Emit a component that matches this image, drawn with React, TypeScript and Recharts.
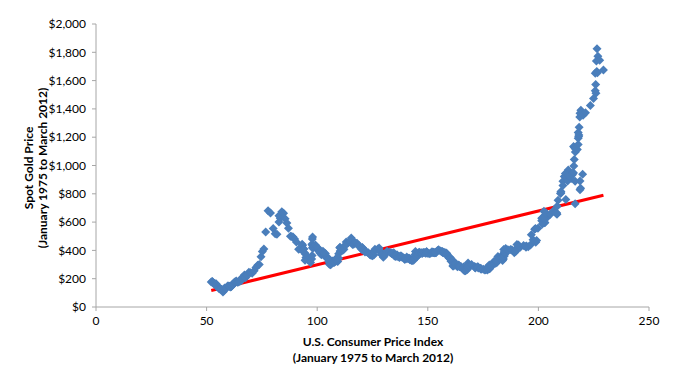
import React from 'react';
import { ScatterChart, Scatter, XAxis, YAxis, ReferenceLine } from 'recharts';

// U.S. CPI-U, monthly, January 1975 - March 2012
const cpi1975to1986 = [
  52.1, 52.5, 52.7, 52.9, 53.2, 53.6, 54.2, 54.3, 54.6, 54.9, 55.3, 55.5,
  55.6, 55.8, 55.9, 56.1, 56.5, 56.8, 57.1, 57.4, 57.6, 57.9, 58.0, 58.2,
  58.5, 59.1, 59.5, 60.0, 60.3, 60.7, 61.0, 61.2, 61.4, 61.6, 61.9, 62.1,
  62.5, 62.9, 63.4, 63.9, 64.5, 65.2, 65.7, 66.0, 66.5, 67.1, 67.4, 67.7,
  68.3, 69.1, 69.8, 70.6, 71.5, 72.3, 73.1, 73.8, 74.6, 75.2, 75.9, 76.7,
  77.8, 78.9, 80.1, 81.0, 81.8, 82.7, 82.7, 83.3, 84.0, 84.8, 85.5, 86.3,
  87.0, 87.9, 88.5, 89.1, 89.8, 90.6, 91.6, 92.3, 93.2, 93.4, 93.7, 94.0,
  94.3, 94.6, 94.5, 94.9, 95.8, 97.0, 97.5, 97.7, 97.9, 98.2, 98.0, 97.6,
  97.8, 97.9, 97.9, 98.6, 99.2, 99.5, 99.9, 100.2, 100.7, 101.0, 101.2, 101.3,
  101.9, 102.4, 102.6, 103.1, 103.4, 103.7, 104.1, 104.5, 105.0, 105.3, 105.3, 105.3,
  105.5, 106.0, 106.4, 106.9, 107.3, 107.6, 107.8, 108.0, 108.3, 108.7, 109.0, 109.3,
  109.6, 109.3, 108.8, 108.6, 108.9, 109.5, 109.5, 109.7, 110.2, 110.3, 110.4, 110.5,
];
const cpi1987to1998 = [
  111.2, 111.6, 112.1, 112.7, 113.1, 113.5, 113.8, 114.4, 115.0, 115.3, 115.4, 115.4,
  115.7, 116.0, 116.5, 117.1, 117.5, 118.0, 118.5, 119.0, 119.8, 120.2, 120.3, 120.5,
  121.1, 121.6, 122.3, 123.1, 123.8, 124.1, 124.4, 124.6, 125.0, 125.6, 125.9, 126.1,
  127.4, 128.0, 128.7, 128.9, 129.2, 129.9, 130.4, 131.6, 132.7, 133.5, 133.8, 133.8,
  134.6, 134.8, 135.0, 135.2, 135.6, 136.0, 136.2, 136.6, 137.2, 137.4, 137.8, 137.9,
  138.1, 138.6, 139.3, 139.5, 139.7, 140.2, 140.5, 140.9, 141.3, 141.8, 142.0, 141.9,
  142.6, 143.1, 143.6, 144.0, 144.2, 144.4, 144.4, 144.8, 145.1, 145.7, 145.8, 145.8,
  146.2, 146.7, 147.2, 147.4, 147.5, 148.0, 148.4, 149.0, 149.4, 149.5, 149.7, 149.7,
  150.3, 150.9, 151.4, 151.9, 152.2, 152.5, 152.5, 152.9, 153.2, 153.7, 153.6, 153.5,
  154.4, 154.9, 155.7, 156.3, 156.6, 156.7, 157.0, 157.3, 157.8, 158.3, 158.6, 158.6,
  159.1, 159.6, 160.0, 160.2, 160.1, 160.3, 160.5, 160.8, 161.2, 161.6, 161.5, 161.3,
  161.6, 161.9, 162.2, 162.5, 162.8, 163.0, 163.2, 163.4, 163.6, 164.0, 164.0, 163.9,
];
const cpi1999to2012 = [
  164.3, 164.5, 165.0, 166.2, 166.2, 166.2, 166.7, 167.1, 167.9, 168.2, 168.3, 168.3,
  168.8, 169.8, 171.2, 171.3, 171.5, 172.4, 172.8, 172.8, 173.7, 174.0, 174.1, 174.0,
  175.1, 175.8, 176.2, 176.9, 177.7, 178.0, 177.5, 177.5, 178.3, 177.7, 177.4, 176.7,
  177.1, 177.8, 178.8, 179.8, 179.8, 179.9, 180.1, 180.7, 181.0, 181.3, 181.3, 180.9,
  181.7, 183.1, 184.2, 183.8, 183.5, 183.7, 183.9, 184.6, 185.2, 185.0, 184.5, 184.3,
  185.2, 186.2, 187.4, 188.0, 189.1, 189.7, 189.4, 189.5, 189.9, 190.9, 191.0, 190.3,
  190.7, 191.8, 193.3, 194.6, 194.4, 194.5, 195.4, 196.4, 198.8, 199.2, 197.6, 196.8,
  198.3, 198.7, 199.8, 201.5, 202.5, 202.9, 203.5, 203.9, 202.9, 201.8, 201.5, 201.8,
  202.4, 203.5, 205.4, 206.7, 207.9, 208.4, 208.3, 207.9, 208.5, 208.9, 210.2, 210.0,
  211.1, 211.7, 213.5, 214.8, 216.6, 218.8, 220.0, 219.1, 218.8, 216.6, 212.4, 210.2,
  211.1, 212.2, 212.7, 213.2, 213.9, 215.7, 215.4, 215.8, 216.0, 216.2, 216.3, 215.9,
  216.7, 216.7, 217.6, 218.0, 218.2, 218.0, 218.0, 218.3, 218.4, 218.7, 218.8, 219.2,
  220.2, 221.3, 223.5, 224.9, 226.0, 225.7, 225.9, 226.5, 226.9, 226.4, 226.2, 225.7,
  226.7, 227.7, 229.4,
];

// Spot gold price (USD/oz), same months
const gold1975to1986 = [
  176, 180, 178, 170, 167, 164, 165, 163, 144, 143, 142, 140,
  131, 131, 132, 128, 126, 125, 117, 106, 114, 117, 130, 134,
  133, 136, 148, 149, 147, 141, 143, 145, 150, 158, 162, 161,
  173, 178, 184, 175, 177, 183, 188, 206, 212, 227, 206, 208,
  227, 245, 242, 239, 257, 279, 295, 301, 355, 392, 410, 530,
  680, 665, 554, 517, 514, 600, 645, 627, 674, 662, 623, 594,
  557, 500, 499, 495, 480, 460, 409, 410, 443, 437, 413, 410,
  384, 374, 330, 350, 334, 315, 339, 364, 435, 422, 415, 444,
  481, 495, 420, 432, 438, 413, 423, 416, 411, 394, 382, 388,
  370, 386, 394, 381, 377, 378, 348, 348, 341, 340, 341, 320,
  303, 299, 304, 325, 316, 316, 317, 330, 323, 326, 325, 322,
  345, 339, 346, 340, 342, 343, 348, 376, 418, 423, 396, 391,
];
const gold1987to1998 = [
  408, 401, 409, 438, 460, 449, 451, 461, 460, 465, 467, 487,
  477, 442, 443, 452, 451, 451, 437, 432, 413, 406, 420, 419,
  404, 388, 390, 384, 371, 367, 375, 365, 362, 367, 394, 409,
  410, 417, 393, 374, 369, 352, 362, 394, 388, 380, 381, 378,
  384, 364, 363, 358, 357, 367, 368, 356, 349, 358, 360, 361,
  354, 354, 345, 338, 337, 341, 353, 343, 345, 344, 335, 334,
  329, 329, 330, 342, 367, 372, 392, 378, 355, 365, 374, 383,
  387, 382, 384, 378, 381, 386, 385, 380, 391, 390, 384, 379,
  379, 377, 382, 391, 385, 387, 386, 383, 383, 383, 386, 387,
  400, 405, 396, 393, 392, 385, 383, 387, 383, 381, 378, 369,
  355, 347, 352, 344, 344, 341, 324, 324, 323, 325, 306, 289,
  289, 297, 296, 308, 299, 292, 293, 284, 289, 296, 294, 291,
];
const gold1999to2012 = [
  287, 287, 286, 282, 277, 262, 256, 257, 265, 311, 293, 283,
  284, 300, 286, 280, 275, 285, 282, 275, 273, 270, 266, 272,
  266, 262, 263, 261, 272, 270, 268, 273, 283, 283, 276, 276,
  282, 296, 294, 302, 314, 321, 314, 310, 319, 317, 319, 333,
  357, 359, 340, 328, 355, 356, 351, 360, 379, 379, 389, 407,
  414, 405, 406, 404, 384, 392, 398, 400, 406, 420, 439, 442,
  424, 423, 434, 429, 422, 431, 425, 438, 457, 470, 476, 510,
  549, 555, 557, 610, 676, 596, 633, 632, 598, 586, 628, 629,
  631, 665, 655, 679, 667, 655, 665, 665, 712, 754, 806, 803,
  889, 922, 968, 909, 888, 890, 939, 839, 829, 730, 760, 816,
  858, 943, 924, 890, 928, 946, 934, 949, 996, 1043, 1127, 1135,
  1118, 1095, 1113, 1148, 1205, 1233, 1193, 1215, 1270, 1343, 1370, 1391,
  1356, 1372, 1424, 1473, 1510, 1529, 1573, 1825, 1772, 1665, 1739, 1652,
  1656, 1743, 1675,
];

const xTicks = [0, 50, 100, 150, 200, 250];
const yTicks = [0, 200, 400, 600, 800, 1000, 1200, 1400, 1600, 1800, 2000];

const cpiAll = [...cpi1975to1986, ...cpi1987to1998, ...cpi1999to2012];
const goldAll = [...gold1975to1986, ...gold1987to1998, ...gold1999to2012];
const points = cpiAll.map((c, i) => ({ cpi: c, gold: goldAll[i] }));

// Linear (least-squares) trend line, as drawn by the spreadsheet
const n = points.length;
const mx = points.reduce((s, p) => s + p.cpi, 0) / n;
const my = points.reduce((s, p) => s + p.gold, 0) / n;
const sxy = points.reduce((s, p) => s + (p.cpi - mx) * (p.gold - my), 0);
const sxx = points.reduce((s, p) => s + (p.cpi - mx) * (p.cpi - mx), 0);
const slope = sxy / sxx;
const intercept = my - slope * mx;
const xMin = Math.min(...cpiAll);
const xMax = Math.max(...cpiAll);

const FONT = 'Lato, "Open Sans", sans-serif';
const AXIS = '#a6a6a6';

const Diamond = (props: any) => {
  const { cx, cy } = props;
  const r = 4.5;
  return (
    <path
      d={`M${cx},${cy - r}L${cx + r},${cy}L${cx},${cy + r}L${cx - r},${cy}Z`}
      fill="#4A7EBB"
    />
  );
};

const YTitle = () => (
  <g fontFamily={FONT} fontSize={12} fontWeight="bold" fill="#000">
    <text x={28} y={168} transform="rotate(-90 28 168)" textAnchor="middle" dominantBaseline="central">
      Spot Gold Price
    </text>
    <text x={42} y={168} transform="rotate(-90 42 168)" textAnchor="middle" dominantBaseline="central">
      (January 1975 to March 2012)
    </text>
  </g>
);

const XTitle = () => (
  <g fontFamily={FONT} fontSize={12} fontWeight="bold" fill="#000">
    <text x={373} y={341} textAnchor="middle" dominantBaseline="central">
      U.S. Consumer Price Index
    </text>
    <text x={373} y={357} textAnchor="middle" dominantBaseline="central">
      (January 1975 to March 2012)
    </text>
  </g>
);

export default function App() {
  return (
    <div style={{ position: 'absolute', left: 0, top: 0, width: 680, height: 392, background: '#fff' }}>
      <ScatterChart width={680} height={392} margin={{ top: 24, right: 31, left: 0, bottom: 25 }}>
        <XAxis
          type="number"
          dataKey="cpi"
          domain={[0, 250]}
          ticks={xTicks}
          interval={0}
          height={60}
          axisLine={{ stroke: AXIS }}
          tickLine={{ stroke: AXIS }}
          tickSize={4}
          tickMargin={5}
          tick={{ fill: '#000', fontSize: 12, fontFamily: FONT }}
          label={{ content: () => <XTitle /> }}
        />
        <YAxis
          type="number"
          dataKey="gold"
          domain={[0, 2000]}
          ticks={yTicks}
          interval={0}
          width={96}
          axisLine={{ stroke: AXIS }}
          tickLine={{ stroke: AXIS }}
          tickSize={4}
          tickMargin={6}
          tick={{ fill: '#000', fontSize: 12, fontFamily: FONT }}
          tickFormatter={(v: number) => '$' + v.toLocaleString('en-US')}
          label={{ content: () => <YTitle /> }}
        />
        <Scatter data={points} shape={<Diamond />} isAnimationActive={false} />
        <ReferenceLine
          segment={[
            { x: xMin, y: slope * xMin + intercept },
            { x: xMax, y: slope * xMax + intercept },
          ]}
          stroke="#ff0000"
          strokeWidth={3}
        />
      </ScatterChart>
    </div>
  );
}
